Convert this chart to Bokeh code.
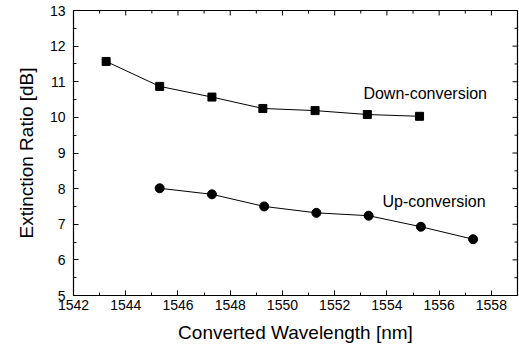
import numpy as np
from bokeh.plotting import figure
from bokeh.models import LinearAxis, Range1d, SingleIntervalTicker, Label
from bokeh.embed import file_html
from bokeh.resources import INLINE

# Data
down_x = [1543.25, 1545.3, 1547.3, 1549.25, 1551.25, 1553.25, 1555.25]
down_y = [11.57, 10.87, 10.57, 10.25, 10.19, 10.08, 10.03]
up_x = [1545.3, 1547.3, 1549.3, 1551.3, 1553.3, 1555.3, 1557.3]
up_y = [8.01, 7.84, 7.50, 7.32, 7.24, 6.93, 6.58]

x_label = "Converted Wavelength [nm]"
y_label = "Extinction Ratio [dB]"
down_label = "Down-conversion"
up_label = "Up-conversion"

X0, X1 = 1542, 1559
Y0, Y1 = 5, 13

FONT = "Liberation Sans"

p = figure(width=519, height=352, output_backend="svg", toolbar_location=None,
           x_range=Range1d(X0, X1), y_range=Range1d(Y0, Y1),
           x_axis_type=None, y_axis_type=None,
           min_border_left=73, min_border_right=2, min_border_top=10, min_border_bottom=57)
p.xgrid.visible = False
p.ygrid.visible = False
p.outline_line_color = "black"
p.outline_line_width = 1.2
p.background_fill_color = "white"
p.border_fill_color = "white"

def style_axis(ax):
    ax.major_tick_in = 5
    ax.major_tick_out = 0
    ax.minor_tick_in = 3
    ax.minor_tick_out = 0
    ax.axis_line_color = "black"
    ax.major_tick_line_color = "black"
    ax.minor_tick_line_color = "black"
    ax.major_label_text_font = FONT
    ax.major_label_text_font_size = "14px"
    ax.major_label_text_color = "black"
    ax.axis_label_text_font = FONT
    ax.axis_label_text_font_size = "19px"
    ax.axis_label_text_font_style = "normal"
    ax.axis_label_text_color = "black"

xb = LinearAxis(ticker=SingleIntervalTicker(interval=2, num_minor_ticks=2), axis_label=x_label)
style_axis(xb)
xb.major_label_standoff = 4
xb.axis_label_standoff = 9
p.add_layout(xb, "below")

yl = LinearAxis(ticker=SingleIntervalTicker(interval=1, num_minor_ticks=2), axis_label=y_label)
style_axis(yl)
yl.major_label_standoff = 8
yl.axis_label_standoff = 10
p.add_layout(yl, "left")

# mirrored inside ticks on top and right edges
top_major = np.arange(X0, X1 + 0.001, 2)
top_minor = np.arange(X0 + 1, X1 + 0.001, 2)
right_major = np.arange(Y0, Y1 + 0.001, 1)
right_minor = np.arange(Y0 + 0.5, Y1, 1)
p.ray(x=top_major, y=Y1, length=5, length_units="screen", angle=-np.pi / 2, line_color="black", line_width=1)
p.ray(x=top_minor, y=Y1, length=3, length_units="screen", angle=-np.pi / 2, line_color="black", line_width=1)
p.ray(x=X1, y=right_major, length=5, length_units="screen", angle=np.pi, line_color="black", line_width=1)
p.ray(x=X1, y=right_minor, length=3, length_units="screen", angle=np.pi, line_color="black", line_width=1)

p.line(down_x, down_y, line_color="black", line_width=1)
p.scatter(down_x, down_y, marker="square", size=8, fill_color="black", line_color="black")
p.line(up_x, up_y, line_color="black", line_width=1)
p.scatter(up_x, up_y, marker="circle", size=9, fill_color="black", line_color="black")

p.add_layout(Label(x=1553.1, y=10.67, text=down_label, text_font=FONT,
                   text_font_size="16px", text_baseline="middle", text_color="black"))
p.add_layout(Label(x=1553.83, y=7.64, text=up_label, text_font=FONT,
                   text_font_size="16px", text_baseline="middle", text_color="black"))

open("out.html", "w").write(file_html(p, INLINE))
